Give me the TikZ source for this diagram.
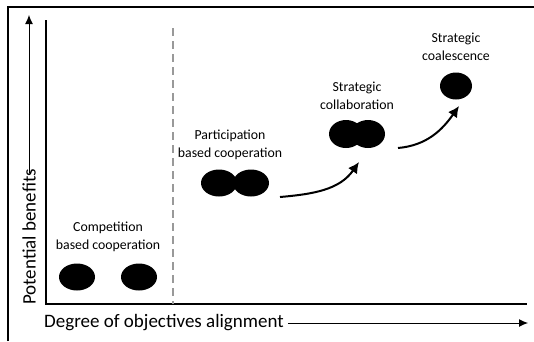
\documentclass[tikz,border=0pt]{standalone}
\usepackage{fontspec}
\setmainfont{Carlito}
\usetikzlibrary{arrows.meta,shapes.geometric}
\begin{document}
\begin{tikzpicture}[x=1pt,y=-1pt,
  blob/.style={ellipse,fill=black,inner sep=0pt,minimum width=36pt,minimum height=27pt},
  caption/.style={align=center,font=\fontsize{13.8}{17.5}\selectfont,inner sep=0pt},
  axislabel/.style={font=\fontsize{19}{22}\selectfont,inner sep=0pt},
  axisline/.style={line width=1.4pt},
  move/.style={line width=2pt,-{Latex[length=11pt,width=11pt]}}]
\useasboundingbox (0,0) rectangle (534,341);
% frame
\draw[line width=1.4pt] (8,341) -- (8,7) -- (534,7);
% axes
\coordinate (O) at (46,304);
\coordinate (ytop) at (46,20);
\coordinate (xend) at (527,304);
\draw[axisline] (ytop) -- (O) -- (xend);
% separator
\coordinate (s1) at (173,28);
\coordinate (s2) at (173,304);
\draw[gray!80,line width=1.1pt,dash pattern=on 8pt off 5pt] (s1) -- (s2);
% axis captions
\node[axislabel,rotate=90,anchor=west] (ylab) at (29,305) {Potential benefits};
\coordinate (ytip) at (29,15);
\draw[line width=1pt,-{Latex[length=9pt,width=8pt]}] ([yshift=-4pt]ylab.east) -- (ytip);
\node[axislabel,anchor=west] (xlab) at (44,323) {Degree of objectives alignment};
\coordinate (xtip) at (528,323);
\draw[line width=1pt,-{Latex[length=9pt,width=8pt]}] ([xshift=4pt]xlab.east) -- (xtip);
% competition based cooperation
\node[blob] (c1) at (77,277) {};
\node[blob] (c2) at (139,277) {};
\node[caption] (ct) at (108,237) {Competition\\based cooperation};
% participation based cooperation
\node[blob] (p1) at (219,183) {};
\node[blob] (p2) at (251,183) {};
\node[caption] (pt) at (230,145) {Participation\\based cooperation};
% strategic collaboration
\node[blob,minimum width=34pt,minimum height=28pt] (s1b) at (346,134) {};
\node[blob,minimum width=34pt,minimum height=28pt] (s2b) at (368,134) {};
\node[caption] (st) at (357,96) {Strategic\\collaboration};
% strategic coalescence
\node[blob,minimum width=32pt,minimum height=27pt] (k) at (456,86) {};
\node[caption] (kt) at (456,47) {Strategic\\coalescence};
% progression arrows
\coordinate (a1s) at (280,197);
\coordinate (a1e) at (359,162);
\draw[move] (a1s) to[out=5,in=235] (a1e);
\coordinate (a2s) at (398,148);
\coordinate (a2e) at (459,106);
\draw[move] (a2s) to[out=5,in=235] (a2e);
\end{tikzpicture}
\end{document}
